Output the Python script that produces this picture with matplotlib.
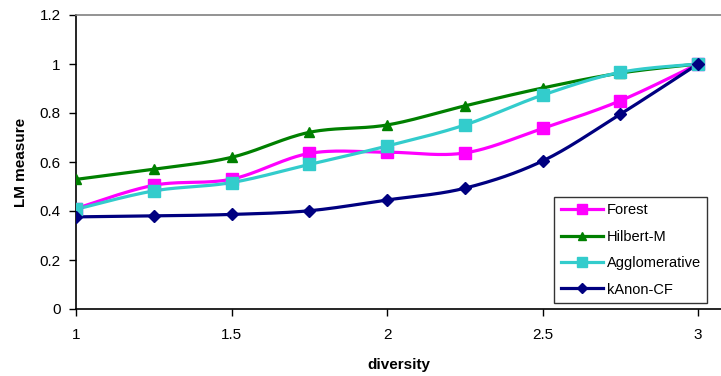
import numpy as np
import matplotlib
matplotlib.use("Agg")
import matplotlib.pyplot as plt

plt.rcParams['font.family'] = ['Liberation Sans', 'DejaVu Sans']

diversity = [1.0, 1.25, 1.5, 1.75, 2.0, 2.25, 2.5, 2.75, 3.0]
forest = [0.41, 0.505, 0.53, 0.635, 0.64, 0.637, 0.737, 0.85, 1.0]
hilbert_m = [0.529, 0.571, 0.619, 0.721, 0.751, 0.829, 0.902, 0.963, 1.0]
agglomerative = [0.407, 0.482, 0.516, 0.59, 0.665, 0.751, 0.873, 0.966, 1.0]
kanon_cf = [0.376, 0.38, 0.386, 0.401, 0.445, 0.493, 0.604, 0.795, 1.0]

x_ticks = [1, 1.5, 2, 2.5, 3]
y_ticks = [0, 0.2, 0.4, 0.6, 0.8, 1, 1.2]


def smooth(xs, ys, n=30):
    """Spreadsheet-style smoothed line: cubic Bezier segments with
    Catmull-Rom control points."""
    xs = np.asarray(xs, float)
    ys = np.asarray(ys, float)
    px = np.concatenate([[xs[0]], xs, [xs[-1]]])
    py = np.concatenate([[ys[0]], ys, [ys[-1]]])
    t = np.linspace(0, 1, n)[:, None]
    out_x, out_y = [], []
    for i in range(1, len(px) - 2):
        p0 = np.array([px[i], py[i]])
        p3 = np.array([px[i + 1], py[i + 1]])
        c1 = p0 + (np.array([px[i + 1], py[i + 1]]) - np.array([px[i - 1], py[i - 1]])) / 6
        c2 = p3 - (np.array([px[i + 2], py[i + 2]]) - np.array([px[i], py[i]])) / 6
        b = ((1 - t) ** 3) * p0 + 3 * ((1 - t) ** 2) * t * c1 + 3 * (1 - t) * t ** 2 * c2 + t ** 3 * p3
        out_x.extend(b[:, 0])
        out_y.extend(b[:, 1])
    return np.array(out_x), np.array(out_y)


series = [
    ("Forest", forest, "#FF00FF", "s", 9),
    ("Hilbert-M", hilbert_m, "#008000", "^", 7),
    ("Agglomerative", agglomerative, "#33CCCC", "s", 9),
    ("kAnon-CF", kanon_cf, "#000080", "D", 6.5),
]

fig = plt.figure(figsize=(7.21, 3.76), dpi=100)
ax = fig.add_axes([76 / 721, (376 - 309) / 376, (721 - 76) / 721, (309 - 15) / 376])

handles = []
for name, vals, color, marker, ms in series:
    sx, sy = smooth(diversity, vals)
    ax.plot(sx, sy, color=color, lw=2.3, solid_capstyle='round', zorder=2)
    ax.plot(diversity, vals, linestyle='none', marker=marker, ms=ms,
            color=color, markeredgecolor=color, zorder=3)
    h, = ax.plot([], [], color=color, lw=2.3, marker=marker, ms=ms * 0.85,
                 markeredgecolor=color, label=name)
    handles.append(h)

ax.set_xlim(1, 3 + 23 / 311)
ax.set_ylim(0, 1.2)
ax.set_xticks(x_ticks)
ax.set_xticklabels(["1", "1.5", "2", "2.5", "3"])
ax.set_yticks(y_ticks)
ax.set_yticklabels(["0", "0.2", "0.4", "0.6", "0.8", "1", "1.2"])
ax.tick_params(axis='both', direction='out', length=5, width=1, labelsize=11,
               color='black')
ax.tick_params(axis='x', pad=9)
ax.tick_params(axis='y', pad=6)

for s in ('left', 'bottom'):
    ax.spines[s].set_color('black')
    ax.spines[s].set_linewidth(1.2)
ax.spines['right'].set_visible(False)
ax.spines['top'].set_color('#808080')
ax.spines['top'].set_linewidth(1.2)

ax.set_xlabel("diversity", fontsize=11, fontweight='bold', labelpad=11)
ax.set_ylabel("LM measure", fontsize=11, fontweight='bold', labelpad=8)

leg = ax.legend(handles=handles, loc='lower right', bbox_to_anchor=(0.979, 0.02),
                fontsize=10.5, frameon=True, fancybox=False, edgecolor='black',
                handlelength=2.9, handletextpad=0.25, borderpad=0.45, labelspacing=0.85,
                borderaxespad=0)
leg.get_frame().set_linewidth(1.0)

fig.savefig("out.png", dpi=100)
